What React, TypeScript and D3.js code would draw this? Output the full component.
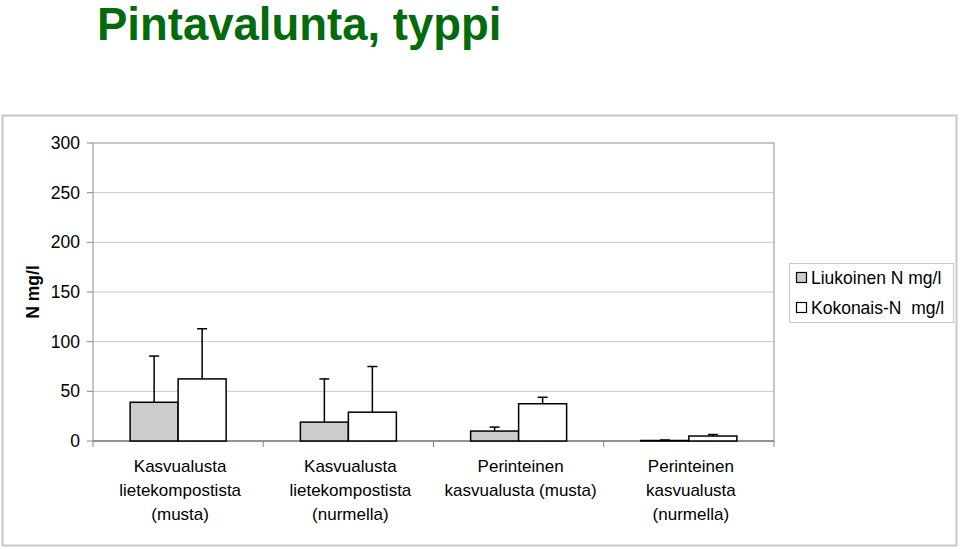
import React from "react";
import * as d3 from "d3";

const categories = [
  ["Kasvualusta", "lietekompostista", "(musta)"],
  ["Kasvualusta", "lietekompostista", "(nurmella)"],
  ["Perinteinen", "kasvualusta (musta)"],
  ["Perinteinen", "kasvualusta", "(nurmella)"],
];
const seriesNames = ["Liukoinen N mg/l", "Kokonais-N  mg/l"];
const liukoinen = [39, 19, 10, 0.5];
const liukoinenErr = [85.5, 62.5, 14, 1];
const kokonais = [62.5, 29, 37.5, 5];
const kokonaisErr = [113, 75, 44, 6.5];
const yTicks = [0, 50, 100, 150, 200, 250, 300];

const W = 960, H = 549;
const m = { left: 93, right: 774, top: 143, bottom: 441 };
const font = "Liberation Sans, Arial, sans-serif";
const fills = ["#cccccc", "#ffffff"];

export default function App() {
  const x = d3.scaleBand<number>().domain(d3.range(categories.length)).range([m.left, m.right]);
  const y = d3.scaleLinear().domain([0, 300]).range([m.bottom, m.top]);
  const bw = 48;
  const series = [
    { v: liukoinen, e: liukoinenErr },
    { v: kokonais, e: kokonaisErr },
  ];
  return (
    <svg width={W} height={H} style={{ position: "absolute", left: 0, top: 0 }} fontFamily={font}>
      <rect x={0} y={0} width={W} height={H} fill="#fff" />
      <text x={97} y={40} fontSize={45.5} fontWeight="bold" fill="#046b0d">Pintavalunta, typpi</text>
      <rect x={2.5} y={115.5} width={954} height={430} fill="none" stroke="#c8c8c8" strokeWidth={2} />
      {yTicks.map((t) => (
        <g key={t}>
          {t > 0 && t < 300 && (
            <line x1={m.left} x2={m.right} y1={y(t)} y2={y(t)} stroke="#c8c8c8" strokeWidth={1} />
          )}
          <line x1={m.left - 6} x2={m.left} y1={y(t)} y2={y(t)} stroke="#888" />
          <text x={80} y={y(t) + 6} fontSize={17.5} textAnchor="end" fill="#000">{t}</text>
        </g>
      ))}
      <rect x={m.left} y={m.top} width={m.right - m.left} height={m.bottom - m.top} fill="none" stroke="#a0a0a0" strokeWidth={1.2} />
      <line x1={m.left} x2={m.right} y1={m.bottom} y2={m.bottom} stroke="#808080" strokeWidth={1.5} />
      {d3.range(categories.length + 1).map((i) => {
        const xx = m.left + i * x.step();
        return <line key={i} x1={xx} x2={xx} y1={m.bottom} y2={m.bottom + 6} stroke="#888" />;
      })}
      <text transform={`translate(39,292) rotate(-90)`} fontSize={17.5} fontWeight="bold" textAnchor="middle">N mg/l</text>
      {categories.map((c, i) => {
        const cx = (x(i) as number) + x.bandwidth() / 2;
        return (
          <g key={i}>
            {series.map((s, j) => {
              const bx = cx - bw + j * bw;
              const top = y(s.v[i]);
              const ex = bx + bw / 2;
              return (
                <g key={j}>
                  <line x1={ex} x2={ex} y1={top} y2={y(s.e[i])} stroke="#000" strokeWidth={1.5} />
                  <line x1={ex - 5} x2={ex + 5} y1={y(s.e[i])} y2={y(s.e[i])} stroke="#000" strokeWidth={1.5} />
                  <rect x={bx} y={top} width={bw} height={m.bottom - top} fill={fills[j]} stroke="#000" strokeWidth={1.5} />
                </g>
              );
            })}
            {c.map((line, k) => (
              <text key={k} x={cx + 2} y={472 + k * 24} fontSize={17} textAnchor="middle">{line}</text>
            ))}
          </g>
        );
      })}
      <rect x={789.5} y={263.5} width={164} height={59} fill="#fff" stroke="#c8c8c8" />
      {seriesNames.map((n, j) => (
        <g key={j}>
          <rect x={796.5} y={272.5 + j * 30} width={10} height={10} fill={fills[j]} stroke="#000" strokeWidth={1.2} />
          <text x={811} y={284 + j * 30} fontSize={17.5} style={{ whiteSpace: "pre" }}>{n}</text>
        </g>
      ))}
    </svg>
  );
}
